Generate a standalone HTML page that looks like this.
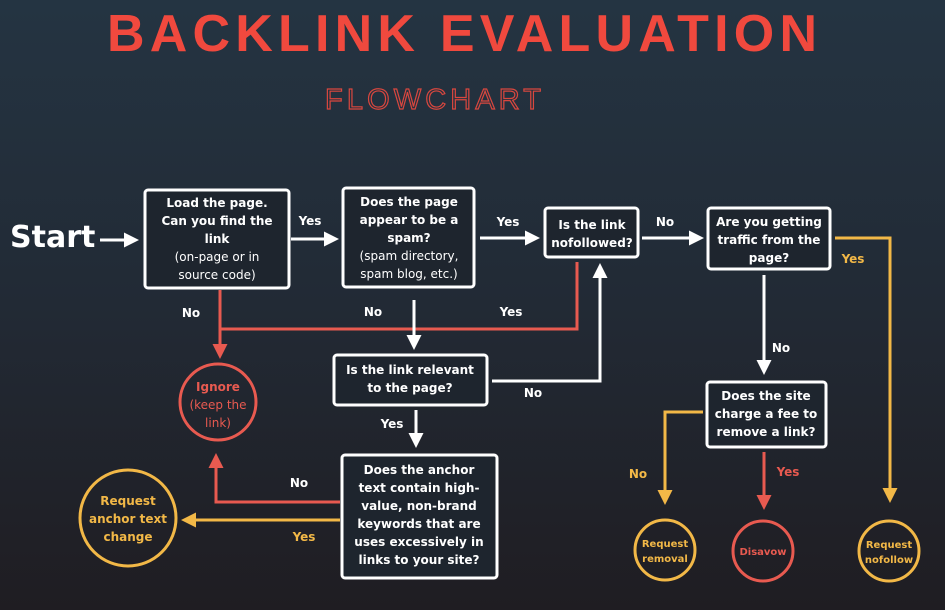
<!DOCTYPE html>
<html><head><style>
html,body{margin:0;padding:0;}
body{width:945px;height:610px;overflow:hidden;background:linear-gradient(#243442 0%,#222a35 50%,#1f1d22 100%);font-family:"Liberation Sans","DejaVu Sans",sans-serif;}
svg{display:block}
text{font-family:"DejaVu Sans","Liberation Sans",sans-serif;font-weight:bold;}
text.n{font-weight:normal;}
</style></head><body>
<svg width="945" height="610" viewBox="0 0 945 610">
<defs>
<marker id="aw" markerWidth="5" markerHeight="5" refX="2" refY="2.5" orient="auto" markerUnits="strokeWidth"><path d="M0,0 L5,2.5 L0,5 Z" fill="#fff"/></marker>
<marker id="ar" markerWidth="5" markerHeight="5" refX="2" refY="2.5" orient="auto" markerUnits="strokeWidth"><path d="M0,0 L5,2.5 L0,5 Z" fill="#e85a50"/></marker>
<marker id="ay" markerWidth="5" markerHeight="5" refX="2" refY="2.5" orient="auto" markerUnits="strokeWidth"><path d="M0,0 L5,2.5 L0,5 Z" fill="#f2b847"/></marker>
</defs>
<text x="462" y="51" text-anchor="middle" font-size="52" fill="#f0493e" style="font-family:'Liberation Sans'" textLength="710">BACKLINK EVALUATION</text>
<text x="433" y="109" text-anchor="middle" font-size="29" fill="none" stroke="#d9473f" stroke-width="1.2" style="font-family:'Liberation Sans';font-weight:normal" textLength="216">FLOWCHART</text>

<text x="10" y="247" font-size="30" fill="#fff">Start</text>
<g stroke-width="3" fill="none">
<line x1="100" y1="240" x2="130" y2="240" stroke="#fff" marker-end="url(#aw)"/>
<line x1="291" y1="239" x2="330" y2="239" stroke="#fff" marker-end="url(#aw)"/>
<line x1="480" y1="238" x2="531" y2="238" stroke="#fff" marker-end="url(#aw)"/>
<line x1="642" y1="238" x2="695" y2="238" stroke="#fff" marker-end="url(#aw)"/>
<polyline points="835,238 890,238 890,494" stroke="#f2b847" marker-end="url(#ay)"/>
<polyline points="577,262 577,329 220,329" stroke="#e85a50"/>
<line x1="220" y1="290" x2="220" y2="350" stroke="#e85a50" marker-end="url(#ar)"/>
<line x1="414" y1="300" x2="414" y2="341" stroke="#fff" marker-end="url(#aw)"/>
<polyline points="492,381 600,381 600,272" stroke="#fff" marker-end="url(#aw)"/>
<line x1="416" y1="410" x2="416" y2="439" stroke="#fff" marker-end="url(#aw)"/>
<polyline points="340,502 216,502 216,462" stroke="#e85a50" marker-end="url(#ar)"/>
<line x1="340" y1="520" x2="190" y2="520" stroke="#f2b847" marker-end="url(#ay)"/>
<line x1="764" y1="275" x2="764" y2="366" stroke="#fff" marker-end="url(#aw)"/>
<polyline points="703,412 665,412 665,496" stroke="#f2b847" marker-end="url(#ay)"/>
<line x1="764" y1="452" x2="764" y2="501" stroke="#e85a50" marker-end="url(#ar)"/>
</g>
<g fill="#1e252e" stroke="#fff" stroke-width="3">
<rect x="145" y="190" width="144" height="98" rx="3"/>
<rect x="343" y="188" width="131" height="99" rx="3"/>
<rect x="545" y="208" width="93" height="49" rx="3"/>
<rect x="708" y="208" width="122" height="61" rx="3"/>
<rect x="334" y="355" width="153" height="50" rx="3"/>
<rect x="342" y="455" width="155" height="123" rx="3"/>
<rect x="707" y="382" width="119" height="65" rx="3"/>
</g>
<g fill="none" stroke-width="3">
<circle cx="218" cy="402" r="38" stroke="#e85a50"/>
<circle cx="128" cy="518" r="48" stroke="#f2b847"/>
<circle cx="665" cy="550" r="30" stroke="#f2b847"/>
<circle cx="763" cy="551" r="30" stroke="#e85a50"/>
<circle cx="889" cy="551" r="30" stroke="#f2b847"/>
</g>
<g font-size="12" fill="#fff" text-anchor="middle">
<text x="217" y="207">Load the page.</text>
<text x="217" y="225">Can you find the</text>
<text x="217" y="243">link</text>
<text class="n" x="217" y="261">(on-page or in</text>
<text class="n" x="217" y="279">source code)</text>
<text x="409" y="206">Does the page</text>
<text x="409" y="224">appear to be a</text>
<text x="409" y="242">spam?</text>
<text class="n" x="409" y="260">(spam directory,</text>
<text class="n" x="409" y="278">spam blog, etc.)</text>
<text x="592" y="229">Is the link</text>
<text x="592" y="247">nofollowed?</text>
<text x="769" y="226">Are you getting</text>
<text x="769" y="244">traffic from the</text>
<text x="769" y="262">page?</text>
<text x="410" y="374">Is the link relevant</text>
<text x="410" y="392">to the page?</text>
<text x="419" y="474">Does the anchor</text>
<text x="419" y="492">text contain high-</text>
<text x="419" y="510">value, non-brand</text>
<text x="419" y="528">keywords that are</text>
<text x="419" y="546">uses excessively in</text>
<text x="419" y="564">links to your site?</text>
<text x="766" y="400">Does the site</text>
<text x="766" y="418">charge a fee to</text>
<text x="766" y="436">remove a link?</text>
<text x="310" y="225">Yes</text>
<text x="508" y="226">Yes</text>
<text x="665" y="226">No</text>
<text x="191" y="317">No</text>
<text x="373" y="316">No</text>
<text x="511" y="316">Yes</text>
<text x="533" y="397">No</text>
<text x="392" y="428">Yes</text>
<text x="299" y="487">No</text>
<text x="781" y="352">No</text>
</g>
<g font-size="12" fill="#f2b847" text-anchor="middle">
<text x="853" y="263">Yes</text>
<text x="304" y="541">Yes</text>
<text x="638" y="478">No</text>
<text x="128" y="505">Request</text>
<text x="128" y="523">anchor text</text>
<text x="128" y="541">change</text>
<text x="665" y="547" font-size="10">Request</text>
<text x="665" y="562" font-size="10">removal</text>
<text x="889" y="548" font-size="10">Request</text>
<text x="889" y="563" font-size="10">nofollow</text>
</g>
<g font-size="12" fill="#e85a50" text-anchor="middle">
<text x="788" y="476">Yes</text>
<text x="218" y="391">Ignore</text>
<text class="n" x="218" y="409">(keep the</text>
<text class="n" x="218" y="427">link)</text>
<text x="763" y="555" font-size="10">Disavow</text>
</g>
</svg>
</body></html>
